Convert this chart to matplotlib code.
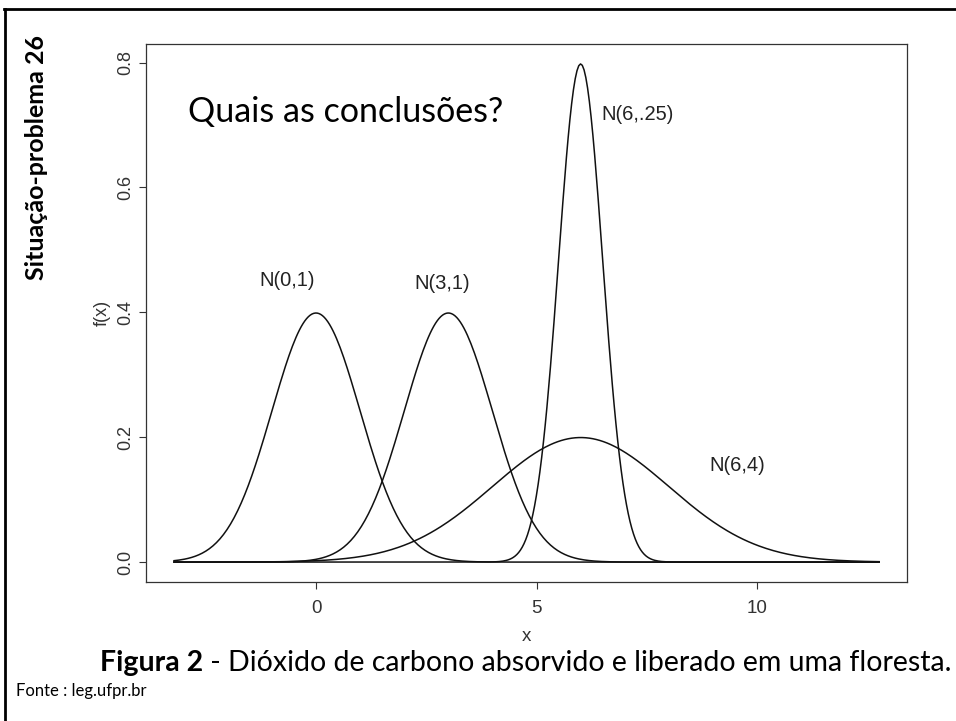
import numpy as np
import matplotlib
matplotlib.use("Agg")
import matplotlib.pyplot as plt
from matplotlib.lines import Line2D

# normal curves: mean, variance, label
MEANS = [0, 3, 6, 6]
VARIANCES = [1, 1, 0.25, 4]
LABELS = ["N(0,1)", "N(3,1)", "N(6,.25)", "N(6,4)"]
LABEL_X = [-0.66, 2.86, 7.30, 9.55]
LABEL_Y = [0.451, 0.446, 0.717, 0.154]
X_RANGE = (-3.22, 12.77)

X_TICKS = [0, 5, 10]
Y_TICKS = [0.0, 0.2, 0.4, 0.6, 0.8]
Y_TICK_LABELS = ["0.0", "0.2", "0.4", "0.6", "0.8"]

TITLE = "Situação-problema 26"
QUESTION = "Quais as conclusões?"
CAPTION_BOLD = "Figura 2"
CAPTION_REST = " - Dióxido de carbono absorvido e liberado em uma floresta."
SOURCE = "Fonte : leg.ufpr.br"

SLIDE_FONT = ["Lato", "DejaVu Sans"]
R_FONT = ["Liberation Sans", "DejaVu Sans"]
W, H = 956, 721


def dnorm(x, mu, var):
    sd = np.sqrt(var)
    return np.exp(-0.5 * ((x - mu) / sd) ** 2) / (sd * np.sqrt(2 * np.pi))


fig = plt.figure(figsize=(W / 100, H / 100), dpi=100)
ax = fig.add_axes([146 / W, 1 - 582 / H, (907 - 146) / W, (582 - 44) / H])

xs = np.linspace(X_RANGE[0], X_RANGE[1], 400)
for mu, var in zip(MEANS, VARIANCES):
    ax.plot(xs, dnorm(xs, mu, var), color="#111111", linewidth=1.1)
for lab, lx, ly in zip(LABELS, LABEL_X, LABEL_Y):
    ax.text(lx, ly, lab, ha="center", va="center", fontsize=14.5,
            family=R_FONT, color="#222222")

ax.set_xlim(-3.855, 13.40)
ax.set_ylim(-0.0319, 0.8298)
ax.set_xticks(X_TICKS)
ax.set_yticks(Y_TICKS)
ax.set_yticklabels(Y_TICK_LABELS, rotation=90, va="center")
ax.tick_params(direction="out", length=5, width=0.8, colors="#333333")
ax.tick_params(axis="x", labelsize=13.5, pad=8)
ax.tick_params(axis="y", labelsize=13, pad=3.5)
for lab in ax.get_xticklabels() + ax.get_yticklabels():
    lab.set_family(R_FONT)
for sp in ax.spines.values():
    sp.set_linewidth(0.9)
    sp.set_color("#333333")
ax.set_xlabel("x", fontsize=13.5, family=R_FONT, color="#333333", labelpad=8)
ax.set_ylabel("f(x)", fontsize=13, family=R_FONT, color="#333333", labelpad=5)

# slide decorations
fig.add_artist(Line2D([4 / W, 1], [1 - 9 / H, 1 - 9 / H], color="black",
                      linewidth=2, transform=fig.transFigure))
fig.add_artist(Line2D([5 / W, 5 / W], [0, 1 - 9 / H], color="black",
                      linewidth=2, transform=fig.transFigure))

fig.text(37 / W, 1 - 157 / H, TITLE, rotation=90, ha="center", va="center",
         fontsize=18, fontweight="bold", family=SLIDE_FONT)
fig.text(346 / W, 1 - 112 / H, QUESTION, ha="center", va="center",
         fontsize=24.5, family=SLIDE_FONT)

cap = fig.text(100 / W, 1 - 663 / H, CAPTION_BOLD, ha="left", va="center",
               fontsize=20.5, fontweight="bold", family=SLIDE_FONT)
renderer = fig.canvas.get_renderer()
bb = cap.get_window_extent(renderer)
fig.text(bb.x1 / W, 1 - 663 / H, CAPTION_REST, ha="left", va="center",
         fontsize=20.5, family=SLIDE_FONT)
fig.text(16 / W, 1 - 691 / H, SOURCE, ha="left", va="center",
         fontsize=12, family=SLIDE_FONT)

fig.savefig("out.png", dpi=100)
